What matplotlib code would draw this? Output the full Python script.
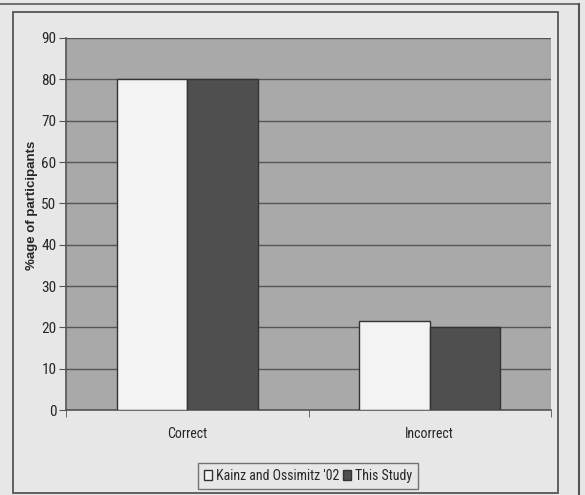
import numpy as np
import matplotlib.pyplot as plt
from matplotlib.patches import Rectangle
from matplotlib.lines import Line2D

categories = ['Correct', 'Incorrect']
kainz = [80, 21.5]
this_study = [80, 20]
series_names = ["Kainz and Ossimitz '02", 'This Study']

W, H = 585, 495
plt.rcParams['font.family'] = ['Roboto Condensed', 'Liberation Sans', 'DejaVu Sans']
ink = '#262626'

fig = plt.figure(figsize=(W / 100, H / 100), dpi=100)
fig.patch.set_facecolor('#e7e7e7')


def px(x0, y0, x1, y1):
    # pixel box (top-left origin) -> figure fraction rect
    return [x0 / W, 1 - y1 / H, (x1 - x0) / W, (y1 - y0) / H]


ax = fig.add_axes(px(66, 38, 551, 410))
ax.set_facecolor('#a9a9a9')

x = np.arange(len(categories))
bw = 0.29
ax.bar(x - bw / 2, kainz, bw, color='#f3f3f3', edgecolor='#333333', linewidth=1, zorder=3,
       label=series_names[0])
ax.bar(x + bw / 2, this_study, bw, color='#4f4f4f', edgecolor='#333333', linewidth=1, zorder=3,
       label=series_names[1])

ax.set_xlim(-0.5, 1.5)
ax.set_ylim(0, 90)
ax.set_yticks(np.arange(0, 91, 10))
ax.yaxis.grid(True, color='#555555', linewidth=1)
ax.set_axisbelow(True)

ax.set_xticks(x)
ax.set_xticklabels(categories, fontsize=10, color=ink)
ax.tick_params(axis='x', length=0, pad=12)
ax.set_xticks([-0.5, 0.5, 1.5], minor=True)
ax.tick_params(axis='x', which='minor', length=5, color='#555555', direction='out')
ax.tick_params(axis='y', length=5, color='#555555', labelsize=11, labelcolor=ink, pad=2)

for s in ['top', 'right']:
    ax.spines[s].set_visible(False)
for s in ['left', 'bottom']:
    ax.spines[s].set_color('#555555')
    ax.spines[s].set_linewidth(1.2)

ax.set_ylabel('%age of participants', fontsize=9.5, fontweight='bold', color=ink,
              family=['Liberation Sans', 'DejaVu Sans'])
ax.yaxis.set_label_coords(-0.057, 0.55)

leg = fig.legend(loc='center', bbox_to_anchor=(308 / W, 1 - 476 / H), ncol=2,
                 fontsize=10, frameon=True, fancybox=False, edgecolor='#555555',
                 facecolor='#e7e7e7', handlelength=0.6, handleheight=0.7,
                 handletextpad=0.25, columnspacing=0.3, borderpad=0.45, borderaxespad=0)
leg.get_frame().set_linewidth(1)
for t in leg.get_texts():
    t.set_color(ink)

# chart frame and the page edges
fig.patches.append(Rectangle((13 / W, 1 - 493 / H), (558 - 13) / W, (493 - 12) / H,
                             transform=fig.transFigure, fill=False,
                             edgecolor='#555555', linewidth=1.3))
fig.lines.append(Line2D([0, 579 / W], [1 - 4 / H, 1 - 4 / H], transform=fig.transFigure,
                        color='#666666', linewidth=1.3))
fig.lines.append(Line2D([579 / W, 579 / W], [0, 1 - 4 / H], transform=fig.transFigure,
                        color='#555555', linewidth=1.5))

fig.savefig('out.png', dpi=100, facecolor=fig.get_facecolor())
